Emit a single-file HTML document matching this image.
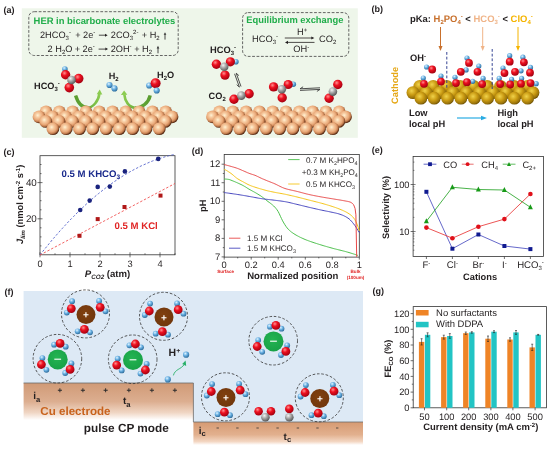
<!DOCTYPE html>
<html><head><meta charset="utf-8"><style>
html,body{margin:0;padding:0;background:#fff;}
svg{display:block;font-family:"Liberation Sans", sans-serif;will-change:transform;text-rendering:geometricPrecision;}
</style></head><body>
<svg width="550" height="449" viewBox="0 0 550 449">
<rect width="550" height="449" fill="#fff"/>

<defs>
 <radialGradient id="cu" cx="0.4" cy="0.38" r="0.6">
  <stop offset="0" stop-color="#fff2d4"/><stop offset="0.28" stop-color="#f7cca2"/><stop offset="0.62" stop-color="#e9a878"/><stop offset="0.84" stop-color="#c07a4c"/><stop offset="1" stop-color="#5e3018"/>
 </radialGradient>
 <radialGradient id="au" cx="0.4" cy="0.36" r="0.66">
  <stop offset="0" stop-color="#f0d24a"/><stop offset="0.5" stop-color="#c99a12"/><stop offset="0.85" stop-color="#98720a"/><stop offset="1" stop-color="#664a00"/>
 </radialGradient>
 <radialGradient id="ox" cx="0.38" cy="0.32" r="0.7">
  <stop offset="0" stop-color="#ff9090"/><stop offset="0.4" stop-color="#ee1020"/><stop offset="1" stop-color="#a00010"/>
 </radialGradient>
 <radialGradient id="hy" cx="0.38" cy="0.32" r="0.7">
  <stop offset="0" stop-color="#e0f4ff"/><stop offset="0.45" stop-color="#6cb2e4"/><stop offset="1" stop-color="#2a6a9a"/>
 </radialGradient>
 <radialGradient id="cg" cx="0.38" cy="0.32" r="0.7">
  <stop offset="0" stop-color="#f4f4f4"/><stop offset="0.45" stop-color="#a8a8a8"/><stop offset="1" stop-color="#555"/>
 </radialGradient>
 <radialGradient id="an" cx="0.45" cy="0.4" r="0.65">
  <stop offset="0" stop-color="#24b452"/><stop offset="1" stop-color="#17a046"/>
 </radialGradient>
 <radialGradient id="ca" cx="0.45" cy="0.4" r="0.65">
  <stop offset="0" stop-color="#80400f"/><stop offset="1" stop-color="#70360c"/>
 </radialGradient>
 <linearGradient id="el1" x1="0" y1="0" x2="0" y2="1">
  <stop offset="0" stop-color="#d09a76"/><stop offset="0.5" stop-color="#dcae90"/><stop offset="0.8" stop-color="#f0d6c4"/><stop offset="1" stop-color="#ffffff"/>
 </linearGradient>
 <linearGradient id="el2" x1="0" y1="0" x2="0" y2="1">
  <stop offset="0" stop-color="#d69a72"/><stop offset="0.55" stop-color="#e2b08e"/><stop offset="0.85" stop-color="#f3d6c2"/><stop offset="1" stop-color="#ffffff"/>
 </linearGradient>
 <linearGradient id="garr" x1="0" y1="0" x2="1" y2="0">
  <stop offset="0" stop-color="#7cc34a"/><stop offset="1" stop-color="#5aa832"/>
 </linearGradient>
 <marker id="ah" viewBox="0 0 10 10" refX="5" refY="5" markerWidth="4" markerHeight="4" orient="auto-start-reverse">
  <path d="M0,0 L10,5 L0,10 z" fill="context-stroke"/>
 </marker>
</defs>

<text x="3.4" y="12.5" font-size="9" font-weight="bold" fill="#231f20" text-anchor="start" >(a)</text>
<text x="371.4" y="12.0" font-size="9" font-weight="bold" fill="#231f20" text-anchor="start" >(b)</text>
<text x="3.4" y="154.5" font-size="9" font-weight="bold" fill="#231f20" text-anchor="start" >(c)</text>
<text x="191.7" y="154" font-size="9" font-weight="bold" fill="#231f20" text-anchor="start" >(d)</text>
<text x="371.7" y="153" font-size="9" font-weight="bold" fill="#231f20" text-anchor="start" >(e)</text>
<text x="4.5" y="294.5" font-size="9" font-weight="bold" fill="#231f20" text-anchor="start" >(f)</text>
<text x="372.5" y="293.8" font-size="9" font-weight="bold" fill="#231f20" text-anchor="start" >(g)</text>
<rect x="21.8" y="8.3" width="336" height="129.5" fill="#eef6ea"/>
<rect x="28.8" y="11.7" width="149.4" height="43.8" rx="5.5" fill="none" stroke="#555" stroke-width="0.9" stroke-dasharray="2.8 1.6"/>
<rect x="242.6" y="12.6" width="106.2" height="43.8" rx="5.5" fill="none" stroke="#555" stroke-width="0.9" stroke-dasharray="2.8 1.6"/>
<text x="33.6" y="23.6" font-size="9.42" font-weight="bold" fill="#20ad4a" text-anchor="start" >HER in bicarbonate electrolytes</text>
<text x="246.3" y="23.4" font-size="9.35" font-weight="bold" fill="#20ad4a" text-anchor="start" >Equilibrium exchange</text>
<text x="40" y="37.8" font-size="9.2" fill="#231f20">2HCO<tspan font-size="6" dy="2">3</tspan><tspan font-size="6" dy="-6">-</tspan></text>
<text x="75.2" y="37.8" font-size="9.2" fill="#231f20">+ 2e<tspan font-size="6" dy="-4">-</tspan></text>
<text x="110.8" y="37.8" font-size="9.2" fill="#231f20">2CO<tspan font-size="6" dy="2">3</tspan><tspan font-size="6" dy="-6">2-</tspan></text>
<text x="141.8" y="37.8" font-size="9.2" fill="#231f20">+ H<tspan font-size="6" dy="2">2</tspan></text>
<text x="47.6" y="51.8" font-size="9.2" fill="#231f20">2 H<tspan font-size="6" dy="2">2</tspan><tspan dy="-2">O</tspan></text>
<text x="74.7" y="51.8" font-size="9.2" fill="#231f20">+ 2e<tspan font-size="6" dy="-4">-</tspan></text>
<text x="110.7" y="51.8" font-size="9.2" fill="#231f20">2OH<tspan font-size="6" dy="-4">-</tspan></text>
<text x="134.2" y="51.8" font-size="9.2" fill="#231f20">+ H<tspan font-size="6" dy="2">2</tspan></text>
<path d="M98.9,35.2 H105.6" stroke="#231f20" stroke-width="0.8"/><path d="M105.0,33.7 L107.6,35.2 L105.0,36.7 z" fill="#231f20"/>
<path d="M98.6,49.1 H106" stroke="#231f20" stroke-width="0.8"/><path d="M105.4,47.6 L108,49.1 L105.4,50.6 z" fill="#231f20"/>
<path d="M165,39.6 V34.2" stroke="#333" stroke-width="0.9"/><path d="M163.7,34.800000000000004 L165,32.2 L166.3,34.800000000000004 z" fill="#333"/>
<path d="M158,53.3 V47.8" stroke="#333" stroke-width="0.9"/><path d="M156.7,48.4 L158,45.8 L159.3,48.4 z" fill="#333"/>
<text x="252" y="41.8" font-size="9.3" fill="#231f20">HCO<tspan font-size="6" dy="2">3</tspan><tspan font-size="6" dy="-6">-</tspan></text>
<text x="319" y="41.8" font-size="9.3" fill="#231f20">CO<tspan font-size="6" dy="2">2</tspan></text>
<text x="297" y="34.5" font-size="9.3" fill="#231f20">H<tspan font-size="6" dy="-3">+</tspan></text>
<text x="293.2" y="51.5" font-size="9.3" fill="#231f20">OH<tspan font-size="6" dy="-3">-</tspan></text>
<path d="M284.8,38 H312" stroke="#231f20" stroke-width="0.8" fill="none"/><path d="M314.3,38 L311.3,36.4 L311.3,39.6 z" fill="#231f20"/>
<path d="M287.5,42.4 H314.5" stroke="#231f20" stroke-width="0.8" fill="none"/><path d="M285,42.4 L288,40.8 L288,44 z" fill="#231f20"/>
<linearGradient id="ga1" gradientUnits="userSpaceOnUse" x1="75" y1="0" x2="100" y2="0"><stop offset="0" stop-color="#5a9c30"/><stop offset="0.45" stop-color="#62a836"/><stop offset="1" stop-color="#8ccc50"/></linearGradient>
<linearGradient id="ga2" gradientUnits="userSpaceOnUse" x1="151" y1="0" x2="123" y2="0"><stop offset="0" stop-color="#5a9c30"/><stop offset="0.45" stop-color="#62a836"/><stop offset="1" stop-color="#8ccc50"/></linearGradient>
<path d="M75.6,95.6 C78,103.5 82.5,107.8 88,107.8" stroke="url(#ga1)" stroke-width="3.4" fill="none"/>
<path d="M87,107.8 C93,107.8 98.6,101 99.4,93.6" stroke="url(#ga1)" stroke-width="2.6" fill="none"/>
<path d="M99.7,89.6 L102.3,94.6 L96.7,94.2 z" fill="#8ccc50"/>
<path d="M150.2,95.4 C148.5,103 142,108 135,108" stroke="url(#ga2)" stroke-width="3.4" fill="none"/>
<path d="M136,108 C129,107.8 124.8,101 124.3,94.4" stroke="url(#ga2)" stroke-width="2.6" fill="none"/>
<path d="M124.1,90.6 L127.3,94.8 L120.9,94.9 z" fill="#8ccc50"/>
<circle cx="46.0" cy="111.8" r="6.4" fill="url(#cu)"/>
<circle cx="59.3" cy="111.8" r="6.4" fill="url(#cu)"/>
<circle cx="72.6" cy="111.8" r="6.4" fill="url(#cu)"/>
<circle cx="85.9" cy="111.8" r="6.4" fill="url(#cu)"/>
<circle cx="99.2" cy="111.8" r="6.4" fill="url(#cu)"/>
<circle cx="112.5" cy="111.8" r="6.4" fill="url(#cu)"/>
<circle cx="125.8" cy="111.8" r="6.4" fill="url(#cu)"/>
<circle cx="139.1" cy="111.8" r="6.4" fill="url(#cu)"/>
<circle cx="152.4" cy="111.8" r="6.4" fill="url(#cu)"/>
<circle cx="165.7" cy="111.8" r="6.4" fill="url(#cu)"/>
<circle cx="39.0" cy="116.8" r="6.4" fill="url(#cu)"/>
<circle cx="52.3" cy="116.8" r="6.4" fill="url(#cu)"/>
<circle cx="65.6" cy="116.8" r="6.4" fill="url(#cu)"/>
<circle cx="78.9" cy="116.8" r="6.4" fill="url(#cu)"/>
<circle cx="92.2" cy="116.8" r="6.4" fill="url(#cu)"/>
<circle cx="105.5" cy="116.8" r="6.4" fill="url(#cu)"/>
<circle cx="118.8" cy="116.8" r="6.4" fill="url(#cu)"/>
<circle cx="132.1" cy="116.8" r="6.4" fill="url(#cu)"/>
<circle cx="145.4" cy="116.8" r="6.4" fill="url(#cu)"/>
<circle cx="158.7" cy="116.8" r="6.4" fill="url(#cu)"/>
<circle cx="172.0" cy="116.8" r="6.4" fill="url(#cu)"/>
<circle cx="45.6" cy="121.4" r="6.4" fill="url(#cu)"/>
<circle cx="58.9" cy="121.4" r="6.4" fill="url(#cu)"/>
<circle cx="72.2" cy="121.4" r="6.4" fill="url(#cu)"/>
<circle cx="85.5" cy="121.4" r="6.4" fill="url(#cu)"/>
<circle cx="98.8" cy="121.4" r="6.4" fill="url(#cu)"/>
<circle cx="112.1" cy="121.4" r="6.4" fill="url(#cu)"/>
<circle cx="125.4" cy="121.4" r="6.4" fill="url(#cu)"/>
<circle cx="138.7" cy="121.4" r="6.4" fill="url(#cu)"/>
<circle cx="152.0" cy="121.4" r="6.4" fill="url(#cu)"/>
<circle cx="165.3" cy="121.4" r="6.4" fill="url(#cu)"/>
<circle cx="52.9" cy="128.7" r="6.4" fill="url(#cu)"/>
<circle cx="66.2" cy="128.7" r="6.4" fill="url(#cu)"/>
<circle cx="79.5" cy="128.7" r="6.4" fill="url(#cu)"/>
<circle cx="92.8" cy="128.7" r="6.4" fill="url(#cu)"/>
<circle cx="106.1" cy="128.7" r="6.4" fill="url(#cu)"/>
<circle cx="119.4" cy="128.7" r="6.4" fill="url(#cu)"/>
<circle cx="132.7" cy="128.7" r="6.4" fill="url(#cu)"/>
<circle cx="146.0" cy="128.7" r="6.4" fill="url(#cu)"/>
<circle cx="159.3" cy="128.7" r="6.4" fill="url(#cu)"/>
<circle cx="219.5" cy="111.8" r="6.4" fill="url(#cu)"/>
<circle cx="232.8" cy="111.8" r="6.4" fill="url(#cu)"/>
<circle cx="246.1" cy="111.8" r="6.4" fill="url(#cu)"/>
<circle cx="259.4" cy="111.8" r="6.4" fill="url(#cu)"/>
<circle cx="272.7" cy="111.8" r="6.4" fill="url(#cu)"/>
<circle cx="286.0" cy="111.8" r="6.4" fill="url(#cu)"/>
<circle cx="299.3" cy="111.8" r="6.4" fill="url(#cu)"/>
<circle cx="312.6" cy="111.8" r="6.4" fill="url(#cu)"/>
<circle cx="325.9" cy="111.8" r="6.4" fill="url(#cu)"/>
<circle cx="339.2" cy="111.8" r="6.4" fill="url(#cu)"/>
<circle cx="212.5" cy="116.8" r="6.4" fill="url(#cu)"/>
<circle cx="225.8" cy="116.8" r="6.4" fill="url(#cu)"/>
<circle cx="239.1" cy="116.8" r="6.4" fill="url(#cu)"/>
<circle cx="252.4" cy="116.8" r="6.4" fill="url(#cu)"/>
<circle cx="265.7" cy="116.8" r="6.4" fill="url(#cu)"/>
<circle cx="279.0" cy="116.8" r="6.4" fill="url(#cu)"/>
<circle cx="292.3" cy="116.8" r="6.4" fill="url(#cu)"/>
<circle cx="305.6" cy="116.8" r="6.4" fill="url(#cu)"/>
<circle cx="318.9" cy="116.8" r="6.4" fill="url(#cu)"/>
<circle cx="332.2" cy="116.8" r="6.4" fill="url(#cu)"/>
<circle cx="345.5" cy="116.8" r="6.4" fill="url(#cu)"/>
<circle cx="219.1" cy="121.4" r="6.4" fill="url(#cu)"/>
<circle cx="232.4" cy="121.4" r="6.4" fill="url(#cu)"/>
<circle cx="245.7" cy="121.4" r="6.4" fill="url(#cu)"/>
<circle cx="259.0" cy="121.4" r="6.4" fill="url(#cu)"/>
<circle cx="272.3" cy="121.4" r="6.4" fill="url(#cu)"/>
<circle cx="285.6" cy="121.4" r="6.4" fill="url(#cu)"/>
<circle cx="298.9" cy="121.4" r="6.4" fill="url(#cu)"/>
<circle cx="312.2" cy="121.4" r="6.4" fill="url(#cu)"/>
<circle cx="325.5" cy="121.4" r="6.4" fill="url(#cu)"/>
<circle cx="338.8" cy="121.4" r="6.4" fill="url(#cu)"/>
<circle cx="226.4" cy="128.7" r="6.4" fill="url(#cu)"/>
<circle cx="239.7" cy="128.7" r="6.4" fill="url(#cu)"/>
<circle cx="253.0" cy="128.7" r="6.4" fill="url(#cu)"/>
<circle cx="266.3" cy="128.7" r="6.4" fill="url(#cu)"/>
<circle cx="279.6" cy="128.7" r="6.4" fill="url(#cu)"/>
<circle cx="292.9" cy="128.7" r="6.4" fill="url(#cu)"/>
<circle cx="306.2" cy="128.7" r="6.4" fill="url(#cu)"/>
<circle cx="319.5" cy="128.7" r="6.4" fill="url(#cu)"/>
<circle cx="332.8" cy="128.7" r="6.4" fill="url(#cu)"/>
<circle cx="64.9" cy="69.0" r="2.8" fill="url(#hy)"/>
<circle cx="65.6" cy="74.8" r="4.7" fill="url(#ox)"/>
<circle cx="78.7" cy="78.6" r="4.8" fill="url(#ox)"/>
<circle cx="69.3" cy="87.6" r="4.8" fill="url(#ox)"/>
<circle cx="71.5" cy="80.0" r="4.3" fill="url(#cg)"/>
<text x="34" y="89.1" font-size="9.2" font-weight="bold" fill="#231f20">HCO<tspan font-size="6" dy="2">3</tspan><tspan font-size="6" dy="-6">-</tspan></text>
<text x="108.7" y="78.9" font-size="9.2" font-weight="bold" fill="#231f20">H<tspan font-size="6" dy="2">2</tspan></text>
<text x="157" y="77.5" font-size="9.2" font-weight="bold" fill="#231f20">H<tspan font-size="6" dy="2">2</tspan><tspan dy="-2">O</tspan></text>
<circle cx="109.5" cy="85.0" r="3.1" fill="url(#hy)"/>
<circle cx="114.5" cy="88.4" r="3.1" fill="url(#hy)"/>
<circle cx="149.2" cy="85.5" r="3.1" fill="url(#hy)"/>
<circle cx="155.6" cy="83.3" r="5.0" fill="url(#ox)"/>
<circle cx="156.7" cy="90.5" r="3.1" fill="url(#hy)"/>
<text x="210" y="52.8" font-size="9.3" font-weight="bold" fill="#231f20">HCO<tspan font-size="6" dy="2">3</tspan><tspan font-size="6" dy="-6">-</tspan></text>
<text x="208.6" y="99.3" font-size="9.2" font-weight="bold" fill="#231f20">CO<tspan font-size="6" dy="2">2</tspan></text>
<circle cx="216.4" cy="64.2" r="4.7" fill="url(#ox)"/>
<circle cx="235.9" cy="61.8" r="2.8" fill="url(#hy)"/>
<circle cx="230.4" cy="61.8" r="4.6" fill="url(#ox)"/>
<circle cx="225.0" cy="75.1" r="4.7" fill="url(#ox)"/>
<circle cx="224.2" cy="66.8" r="4.3" fill="url(#cg)"/>
<circle cx="234.0" cy="99.3" r="4.7" fill="url(#ox)"/>
<circle cx="249.1" cy="93.8" r="4.7" fill="url(#ox)"/>
<circle cx="241.3" cy="95.6" r="4.3" fill="url(#cg)"/>
<path d="M234.6,73.8 L239.4,87.1 L236.7,84.7 M241.0,86.5 L236.2,73.2 L238.9,75.6" stroke="#3a3a3a" stroke-width="0.9" fill="none" stroke-linejoin="round"/>
<circle cx="273.6" cy="86.9" r="4.7" fill="url(#ox)"/>
<circle cx="293.3" cy="84.2" r="2.8" fill="url(#hy)"/>
<circle cx="288.2" cy="84.5" r="4.6" fill="url(#ox)"/>
<circle cx="282.2" cy="97.8" r="4.7" fill="url(#ox)"/>
<circle cx="281.8" cy="89.3" r="4.3" fill="url(#cg)"/>
<path d="M300.0,90.4 L320.0,89.4 L316.9,91.4 M320.0,87.8 L300.0,88.8 L303.1,86.8" stroke="#3a3a3a" stroke-width="0.9" fill="none" stroke-linejoin="round"/>
<circle cx="337.8" cy="84.5" r="4.7" fill="url(#ox)"/>
<circle cx="329.1" cy="98.2" r="4.7" fill="url(#ox)"/>
<circle cx="332.9" cy="91.6" r="4.3" fill="url(#cg)"/>
<text x="410" y="21.9" font-size="9.45" font-weight="bold" fill="#231f20">pKa: <tspan fill="#c8702c">H<tspan font-size="6" dy="2">2</tspan><tspan dy="-2">PO</tspan><tspan font-size="6" dy="2">4</tspan><tspan font-size="6" dy="-6">-</tspan></tspan><tspan dy="4"> &lt; </tspan><tspan fill="#f0b488">HCO<tspan font-size="6" dy="2">3</tspan><tspan font-size="6" dy="-6">-</tspan></tspan><tspan dy="4"> &lt; </tspan><tspan fill="#f5b400">ClO<tspan font-size="6" dy="2">4</tspan><tspan font-size="6" dy="-6">-</tspan></tspan></text>
<path d="M440.5,27 V49" stroke="#c8702c" stroke-width="1"/><path d="M438.5,46 L440.5,51 L442.5,46 z" fill="#c8702c"/>
<path d="M482.7,27 V49" stroke="#f0b488" stroke-width="1"/><path d="M480.7,46 L482.7,51 L484.7,46 z" fill="#f0b488"/>
<path d="M518,27 V49" stroke="#f5b400" stroke-width="1"/><path d="M516,46 L518,51 L520,46 z" fill="#f5b400"/>
<text x="410" y="61" font-size="9.3" font-weight="bold" fill="#231f20">OH<tspan font-size="6" dy="-3">-</tspan></text>
<text transform="translate(398,104) rotate(-90)" font-size="9.3" font-weight="bold" fill="#e6a817">Cathode</text>
<circle cx="419.8" cy="86.3" r="6.4" fill="url(#au)"/>
<circle cx="433.2" cy="86.3" r="6.4" fill="url(#au)"/>
<circle cx="446.7" cy="86.3" r="6.4" fill="url(#au)"/>
<circle cx="460.1" cy="86.3" r="6.4" fill="url(#au)"/>
<circle cx="473.6" cy="86.3" r="6.4" fill="url(#au)"/>
<circle cx="487.1" cy="86.3" r="6.4" fill="url(#au)"/>
<circle cx="500.5" cy="86.3" r="6.4" fill="url(#au)"/>
<circle cx="514.0" cy="86.3" r="6.4" fill="url(#au)"/>
<circle cx="527.4" cy="86.3" r="6.4" fill="url(#au)"/>
<circle cx="412.9" cy="92.6" r="6.4" fill="url(#au)"/>
<circle cx="426.2" cy="92.6" r="6.4" fill="url(#au)"/>
<circle cx="439.6" cy="92.6" r="6.4" fill="url(#au)"/>
<circle cx="452.9" cy="92.6" r="6.4" fill="url(#au)"/>
<circle cx="466.3" cy="92.6" r="6.4" fill="url(#au)"/>
<circle cx="479.6" cy="92.6" r="6.4" fill="url(#au)"/>
<circle cx="493.0" cy="92.6" r="6.4" fill="url(#au)"/>
<circle cx="506.3" cy="92.6" r="6.4" fill="url(#au)"/>
<circle cx="519.7" cy="92.6" r="6.4" fill="url(#au)"/>
<circle cx="533.0" cy="92.6" r="6.4" fill="url(#au)"/>
<circle cx="420.9" cy="98.2" r="6.4" fill="url(#au)"/>
<circle cx="434.2" cy="98.2" r="6.4" fill="url(#au)"/>
<circle cx="447.6" cy="98.2" r="6.4" fill="url(#au)"/>
<circle cx="460.9" cy="98.2" r="6.4" fill="url(#au)"/>
<circle cx="474.3" cy="98.2" r="6.4" fill="url(#au)"/>
<circle cx="487.6" cy="98.2" r="6.4" fill="url(#au)"/>
<circle cx="501.0" cy="98.2" r="6.4" fill="url(#au)"/>
<circle cx="514.4" cy="98.2" r="6.4" fill="url(#au)"/>
<circle cx="527.7" cy="98.2" r="6.4" fill="url(#au)"/>
<path d="M446.8,52 V89 M492.2,49 V89" stroke="#2a3a8e" stroke-width="0.95" stroke-dasharray="2.8 1.9"/>
<circle cx="426.6" cy="67.0" r="2.6" fill="url(#hy)"/>
<circle cx="432.2" cy="69.5" r="3.9" fill="url(#ox)"/>
<circle cx="423.3" cy="78.0" r="2.6" fill="url(#hy)"/>
<circle cx="424.0" cy="83.8" r="3.9" fill="url(#ox)"/>
<circle cx="441.0" cy="76.1" r="2.6" fill="url(#hy)"/>
<circle cx="441.0" cy="81.6" r="3.9" fill="url(#ox)"/>
<circle cx="455.0" cy="77.3" r="2.6" fill="url(#hy)"/>
<circle cx="456.0" cy="83.1" r="3.9" fill="url(#ox)"/>
<circle cx="467.0" cy="58.0" r="2.6" fill="url(#hy)"/>
<circle cx="469.0" cy="62.9" r="3.9" fill="url(#ox)"/>
<circle cx="466.1" cy="69.9" r="2.6" fill="url(#hy)"/>
<circle cx="460.8" cy="71.8" r="3.9" fill="url(#ox)"/>
<circle cx="478.8" cy="66.1" r="2.6" fill="url(#hy)"/>
<circle cx="477.5" cy="71.8" r="3.9" fill="url(#ox)"/>
<circle cx="472.7" cy="81.3" r="2.6" fill="url(#hy)"/>
<circle cx="466.9" cy="82.2" r="3.9" fill="url(#ox)"/>
<circle cx="483.1" cy="78.4" r="2.6" fill="url(#hy)"/>
<circle cx="482.2" cy="84.1" r="3.9" fill="url(#ox)"/>
<circle cx="509.7" cy="55.7" r="2.6" fill="url(#hy)"/>
<circle cx="509.7" cy="61.7" r="3.9" fill="url(#ox)"/>
<circle cx="522.9" cy="57.2" r="2.6" fill="url(#hy)"/>
<circle cx="523.9" cy="62.3" r="3.9" fill="url(#ox)"/>
<circle cx="503.0" cy="68.0" r="2.6" fill="url(#hy)"/>
<circle cx="504.5" cy="73.1" r="3.9" fill="url(#ox)"/>
<circle cx="521.0" cy="70.8" r="2.6" fill="url(#hy)"/>
<circle cx="515.0" cy="71.8" r="3.9" fill="url(#ox)"/>
<circle cx="530.5" cy="67.4" r="2.6" fill="url(#hy)"/>
<circle cx="530.0" cy="72.7" r="3.9" fill="url(#ox)"/>
<circle cx="499.2" cy="78.4" r="2.6" fill="url(#hy)"/>
<circle cx="500.2" cy="84.1" r="3.9" fill="url(#ox)"/>
<circle cx="511.6" cy="79.4" r="2.6" fill="url(#hy)"/>
<circle cx="510.2" cy="84.5" r="3.9" fill="url(#ox)"/>
<circle cx="521.6" cy="78.4" r="2.6" fill="url(#hy)"/>
<circle cx="521.0" cy="83.7" r="3.9" fill="url(#ox)"/>
<circle cx="536.2" cy="83.7" r="2.6" fill="url(#hy)"/>
<circle cx="530.5" cy="83.1" r="3.9" fill="url(#ox)"/>
<text x="409" y="116" font-size="9.3" font-weight="bold" fill="#231f20">Low</text>
<text x="409" y="127.3" font-size="9.3" font-weight="bold" fill="#231f20">local pH</text>
<text x="497.4" y="116" font-size="9.3" font-weight="bold" fill="#231f20">High</text>
<text x="497.4" y="127.3" font-size="9.3" font-weight="bold" fill="#231f20">local pH</text>
<path d="M457,118 H483" stroke="#29abe2" stroke-width="1.2"/><path d="M481,115.8 L487,118 L481,120.2 z" fill="#29abe2"/>
<rect x="40" y="155.7" width="135" height="99.1" fill="none" stroke="#333" stroke-width="0.8"/>
<path d="M40,245.9 h1.5" stroke="#333" stroke-width="0.7"/>
<path d="M40,236.9 h1.5" stroke="#333" stroke-width="0.7"/>
<path d="M40,227.8 h1.5" stroke="#333" stroke-width="0.7"/>
<path d="M40,218.8 h2.5" stroke="#333" stroke-width="0.7"/>
<path d="M40,209.8 h1.5" stroke="#333" stroke-width="0.7"/>
<path d="M40,200.7 h1.5" stroke="#333" stroke-width="0.7"/>
<path d="M40,191.7 h1.5" stroke="#333" stroke-width="0.7"/>
<path d="M40,182.6 h2.5" stroke="#333" stroke-width="0.7"/>
<path d="M40,173.6 h1.5" stroke="#333" stroke-width="0.7"/>
<path d="M40,164.5 h1.5" stroke="#333" stroke-width="0.7"/>
<path d="M37.5,218.8 h2.5" stroke="#333" stroke-width="0.7"/>
<text x="36.8" y="222.10000000000002" font-size="9.8" font-weight="normal" fill="#231f20" text-anchor="end" >20</text>
<path d="M37.5,182.6 h2.5" stroke="#333" stroke-width="0.7"/>
<text x="36.8" y="185.9" font-size="9.8" font-weight="normal" fill="#231f20" text-anchor="end" >40</text>
<path d="M40.0,254.8 v-2.5" stroke="#333" stroke-width="0.7"/>
<path d="M40.0,254.8 v2.5" stroke="#333" stroke-width="0.7"/>
<text x="40.0" y="267" font-size="9.3" font-weight="normal" fill="#231f20" text-anchor="middle" >0</text>
<path d="M55.0,254.8 v-1.5" stroke="#333" stroke-width="0.7"/>
<path d="M70.0,254.8 v-2.5" stroke="#333" stroke-width="0.7"/>
<path d="M70.0,254.8 v2.5" stroke="#333" stroke-width="0.7"/>
<text x="70.0" y="267" font-size="9.3" font-weight="normal" fill="#231f20" text-anchor="middle" >1</text>
<path d="M85.0,254.8 v-1.5" stroke="#333" stroke-width="0.7"/>
<path d="M100.0,254.8 v-2.5" stroke="#333" stroke-width="0.7"/>
<path d="M100.0,254.8 v2.5" stroke="#333" stroke-width="0.7"/>
<text x="100.0" y="267" font-size="9.3" font-weight="normal" fill="#231f20" text-anchor="middle" >2</text>
<path d="M115.0,254.8 v-1.5" stroke="#333" stroke-width="0.7"/>
<path d="M130.0,254.8 v-2.5" stroke="#333" stroke-width="0.7"/>
<path d="M130.0,254.8 v2.5" stroke="#333" stroke-width="0.7"/>
<text x="130.0" y="267" font-size="9.3" font-weight="normal" fill="#231f20" text-anchor="middle" >3</text>
<path d="M145.0,254.8 v-1.5" stroke="#333" stroke-width="0.7"/>
<path d="M160.0,254.8 v-2.5" stroke="#333" stroke-width="0.7"/>
<path d="M160.0,254.8 v2.5" stroke="#333" stroke-width="0.7"/>
<text x="160.0" y="267" font-size="9.3" font-weight="normal" fill="#231f20" text-anchor="middle" >4</text>
<path d="M175.0,254.8 v-1.5" stroke="#333" stroke-width="0.7"/>
<polyline points="40.0,255.0 42.2,252.1 44.5,249.3 46.8,246.5 49.0,243.8 51.2,241.1 53.5,238.4 55.8,235.8 58.0,233.2 60.2,230.7 62.5,228.2 64.8,225.7 67.0,223.3 69.2,220.9 71.5,218.6 73.8,216.3 76.0,214.0 78.2,211.8 80.5,209.6 82.8,207.5 85.0,205.4 87.2,203.3 89.5,201.3 91.8,199.3 94.0,197.4 96.2,195.5 98.5,193.6 100.8,191.8 103.0,190.0 105.2,188.3 107.5,186.6 109.8,184.9 112.0,183.3 114.2,181.7 116.5,180.2 118.8,178.7 121.0,177.2 123.2,175.8 125.5,174.4 127.8,173.1 130.0,171.8 132.2,170.6 134.5,169.3 136.8,168.2 139.0,167.0 141.2,165.9 143.5,164.9 145.8,163.9 148.0,162.9 150.2,161.9 152.5,161.0 154.8,160.2 157.0,159.4 159.2,158.6 161.5,157.9 163.8,157.2 166.0,156.5 168.2,155.9 170.5,155.3 172.8,154.8 175.0,154.3" fill="none" stroke="#4a5ac8" stroke-width="0.85" stroke-dasharray="2.4 1.8"/>
<path d="M40,255 L175,183.5" stroke="#f04848" stroke-width="0.85" stroke-dasharray="2.4 1.8"/>
<circle cx="80.2" cy="210" r="2.3" fill="#1a237e"/>
<circle cx="89.7" cy="200.6" r="2.3" fill="#1a237e"/>
<circle cx="97.7" cy="186.9" r="2.3" fill="#1a237e"/>
<circle cx="109.8" cy="186.6" r="2.3" fill="#1a237e"/>
<circle cx="124.9" cy="171.4" r="2.3" fill="#1a237e"/>
<circle cx="158.2" cy="158.9" r="2.3" fill="#1a237e"/>
<rect x="77.5" y="233.8" width="4" height="4" fill="#b01818"/>
<rect x="95.7" y="217.1" width="4" height="4" fill="#b01818"/>
<rect x="122.5" y="205" width="4" height="4" fill="#b01818"/>
<rect x="158.5" y="193.6" width="4" height="4" fill="#b01818"/>
<text x="61.6" y="176.9" font-size="9.6" font-weight="bold" fill="#1a2a8c">0.5 M KHCO<tspan font-size="6.4" dy="2">3</tspan></text>
<text x="114.6" y="229.4" font-size="9.6" font-weight="bold" fill="#e02424">0.5 M KCl</text>
<text x="84.8" y="277.2" font-size="9.6" font-weight="bold" fill="#231f20"><tspan font-style="italic">P</tspan><tspan font-size="6.3" font-style="italic" dy="2.2">CO2</tspan><tspan dy="-2.2"> (atm)</tspan></text>
<text transform="translate(22.7,244) rotate(-90)" font-size="9.3" font-weight="bold" fill="#231f20"><tspan font-style="italic">J</tspan><tspan font-size="6" font-style="italic" dy="2">lim</tspan><tspan dy="-2"> (nmol cm</tspan><tspan font-size="6" dy="-3">-2</tspan><tspan dy="3"> s</tspan><tspan font-size="6" dy="-3">-1</tspan><tspan dy="3">)</tspan></text>
<rect x="224.2" y="154.5" width="135.1" height="102.6" fill="none" stroke="#333" stroke-width="0.8"/>
<path d="M224.2,257 v2.6" stroke="#333" stroke-width="0.7"/>
<text x="224.2" y="268" font-size="9.3" font-weight="normal" fill="#231f20" text-anchor="middle" >0</text>
<path d="M237.7,257 v1.4" stroke="#333" stroke-width="0.7"/>
<path d="M251.2,257 v2.6" stroke="#333" stroke-width="0.7"/>
<text x="251.22" y="268" font-size="9.3" font-weight="normal" fill="#231f20" text-anchor="middle" >0.2</text>
<path d="M264.7,257 v1.4" stroke="#333" stroke-width="0.7"/>
<path d="M278.2,257 v2.6" stroke="#333" stroke-width="0.7"/>
<text x="278.24" y="268" font-size="9.3" font-weight="normal" fill="#231f20" text-anchor="middle" >0.4</text>
<path d="M291.8,257 v1.4" stroke="#333" stroke-width="0.7"/>
<path d="M305.3,257 v2.6" stroke="#333" stroke-width="0.7"/>
<text x="305.26" y="268" font-size="9.3" font-weight="normal" fill="#231f20" text-anchor="middle" >0.6</text>
<path d="M318.8,257 v1.4" stroke="#333" stroke-width="0.7"/>
<path d="M332.3,257 v2.6" stroke="#333" stroke-width="0.7"/>
<text x="332.28" y="268" font-size="9.3" font-weight="normal" fill="#231f20" text-anchor="middle" >0.8</text>
<path d="M345.8,257 v1.4" stroke="#333" stroke-width="0.7"/>
<path d="M359.3,257 v2.6" stroke="#333" stroke-width="0.7"/>
<text x="359.29999999999995" y="268" font-size="9.3" font-weight="normal" fill="#231f20" text-anchor="middle" >1</text>
<path d="M224.2,256.9 h-2.6" stroke="#333" stroke-width="0.7"/>
<text x="220.3" y="259.79999999999995" font-size="9.5" font-weight="normal" fill="#231f20" text-anchor="end" >7</text>
<path d="M224.2,247.6 h-1.4" stroke="#333" stroke-width="0.7"/>
<path d="M224.2,238.4 h-2.6" stroke="#333" stroke-width="0.7"/>
<text x="220.3" y="241.26" font-size="9.5" font-weight="normal" fill="#231f20" text-anchor="end" >8</text>
<path d="M224.2,229.1 h-1.4" stroke="#333" stroke-width="0.7"/>
<path d="M224.2,219.8 h-2.6" stroke="#333" stroke-width="0.7"/>
<text x="220.3" y="222.72" font-size="9.5" font-weight="normal" fill="#231f20" text-anchor="end" >9</text>
<path d="M224.2,210.5 h-1.4" stroke="#333" stroke-width="0.7"/>
<path d="M224.2,201.3 h-2.6" stroke="#333" stroke-width="0.7"/>
<text x="220.3" y="204.17999999999998" font-size="9.5" font-weight="normal" fill="#231f20" text-anchor="end" >10</text>
<path d="M224.2,192.0 h-1.4" stroke="#333" stroke-width="0.7"/>
<path d="M224.2,182.7 h-2.6" stroke="#333" stroke-width="0.7"/>
<text x="220.3" y="185.64" font-size="9.5" font-weight="normal" fill="#231f20" text-anchor="end" >11</text>
<path d="M224.2,173.5 h-1.4" stroke="#333" stroke-width="0.7"/>
<path d="M224.2,164.2 h-2.6" stroke="#333" stroke-width="0.7"/>
<text x="220.3" y="167.1" font-size="9.5" font-weight="normal" fill="#231f20" text-anchor="end" >12</text>
<polyline points="224.2,179.03 225.3,179.06 226.4,179.14 227.6,179.26 228.7,179.41 229.8,179.69 230.9,180.13 232.1,180.61 233.2,181.05 234.3,181.51 235.4,181.98 236.6,182.47 237.7,182.97 238.8,183.48 239.9,183.99 241.1,184.53 242.2,185.08 243.3,185.67 244.4,186.30 245.6,186.98 246.7,187.69 247.8,188.41 248.9,189.10 250.1,189.75 251.2,190.37 252.3,190.97 253.4,191.57 254.5,192.18 255.7,192.83 256.8,193.49 257.9,194.16 259.0,194.86 260.2,195.57 261.3,196.32 262.4,197.11 263.5,197.96 264.7,198.85 265.8,199.75 266.9,200.66 268.0,201.53 269.2,202.37 270.3,203.18 271.4,204.03 272.5,204.96 273.7,206.00 274.8,207.11 275.9,208.36 277.0,209.78 278.1,211.48 279.3,213.77 280.4,216.28 281.5,218.57 282.6,220.83 283.8,222.94 284.9,224.76 286.0,226.40 287.1,227.90 288.3,229.22 289.4,230.33 290.5,231.31 291.6,232.20 292.8,233.00 293.9,233.74 295.0,234.44 296.1,235.11 297.3,235.75 298.4,236.35 299.5,236.93 300.6,237.48 301.8,238.01 302.9,238.51 304.0,239.00 305.1,239.47 306.2,239.93 307.4,240.36 308.5,240.79 309.6,241.20 310.7,241.60 311.9,241.99 313.0,242.37 314.1,242.74 315.2,243.10 316.4,243.47 317.5,243.83 318.6,244.19 319.7,244.54 320.9,244.89 322.0,245.23 323.1,245.57 324.2,245.91 325.4,246.24 326.5,246.56 327.6,246.88 328.7,247.20 329.9,247.52 331.0,247.83 332.1,248.14 333.2,248.44 334.3,248.74 335.5,249.02 336.6,249.30 337.7,249.58 338.8,249.86 340.0,250.13 341.1,250.41 342.2,250.69 343.3,250.98 344.5,251.27 345.6,251.57 346.7,251.89 347.8,252.21 349.0,252.54 350.1,252.88 351.2,253.22 352.3,253.57 353.5,253.93 354.6,254.29 355.7,254.66 356.8,255.04 357.9,255.42" fill="none" stroke="#4cc04c" stroke-width="1.0" stroke-linejoin="round"/>
<polyline points="224.2,192.57 225.3,192.72 226.5,192.87 227.6,193.02 228.7,193.18 229.9,193.34 231.0,193.50 232.1,193.67 233.3,193.83 234.4,194.00 235.6,194.17 236.7,194.35 237.8,194.52 239.0,194.70 240.1,194.88 241.2,195.06 242.4,195.25 243.5,195.44 244.6,195.63 245.8,195.82 246.9,196.02 248.0,196.21 249.2,196.41 250.3,196.61 251.4,196.82 252.6,197.03 253.7,197.25 254.9,197.47 256.0,197.69 257.1,197.90 258.3,198.11 259.4,198.31 260.5,198.50 261.7,198.67 262.8,198.83 263.9,198.98 265.1,199.12 266.2,199.26 267.3,199.39 268.5,199.52 269.6,199.64 270.7,199.77 271.9,199.90 273.0,200.04 274.2,200.18 275.3,200.32 276.4,200.46 277.6,200.60 278.7,200.75 279.8,200.89 281.0,201.04 282.1,201.20 283.2,201.37 284.4,201.55 285.5,201.74 286.6,201.95 287.8,202.19 288.9,202.43 290.0,202.70 291.2,202.97 292.3,203.25 293.5,203.53 294.6,203.81 295.7,204.09 296.9,204.36 298.0,204.63 299.1,204.90 300.3,205.18 301.4,205.45 302.5,205.73 303.7,206.01 304.8,206.29 305.9,206.56 307.1,206.84 308.2,207.11 309.3,207.37 310.5,207.64 311.6,207.90 312.8,208.17 313.9,208.43 315.0,208.69 316.2,208.95 317.3,209.20 318.4,209.46 319.6,209.71 320.7,209.96 321.8,210.20 323.0,210.43 324.1,210.66 325.2,210.89 326.4,211.11 327.5,211.33 328.6,211.56 329.8,211.80 330.9,212.05 332.1,212.29 333.2,212.53 334.3,212.77 335.5,213.03 336.6,213.30 337.7,213.59 338.9,213.91 340.0,214.26 341.1,214.66 342.3,215.09 343.4,215.57 344.5,216.10 345.7,216.69 346.8,217.35 347.9,218.06 349.1,218.89 350.2,219.93 351.4,221.14 352.5,222.46 353.6,223.84 354.8,225.38 355.9,227.06 357.0,228.81 358.2,230.66 359.3,232.61" fill="none" stroke="#4848c0" stroke-width="1.0" stroke-linejoin="round"/>
<polyline points="224.2,169.21 225.3,169.81 226.5,170.46 227.6,171.14 228.7,171.87 229.9,172.63 231.0,173.41 232.1,174.28 233.3,175.25 234.4,176.26 235.6,177.24 236.7,178.14 237.8,178.90 239.0,179.59 240.1,180.24 241.2,180.85 242.4,181.45 243.5,182.06 244.6,182.68 245.8,183.31 246.9,183.91 248.0,184.49 249.2,185.02 250.3,185.50 251.4,185.95 252.6,186.36 253.7,186.76 254.9,187.14 256.0,187.51 257.1,187.87 258.3,188.21 259.4,188.55 260.5,188.88 261.7,189.20 262.8,189.52 263.9,189.84 265.1,190.16 266.2,190.46 267.3,190.74 268.5,191.02 269.6,191.27 270.7,191.52 271.9,191.76 273.0,191.99 274.2,192.22 275.3,192.44 276.4,192.65 277.6,192.86 278.7,193.06 279.8,193.26 281.0,193.47 282.1,193.67 283.2,193.89 284.4,194.11 285.5,194.34 286.6,194.58 287.8,194.83 288.9,195.08 290.0,195.33 291.2,195.59 292.3,195.86 293.5,196.13 294.6,196.40 295.7,196.67 296.9,196.94 298.0,197.22 299.1,197.50 300.3,197.79 301.4,198.08 302.5,198.37 303.7,198.67 304.8,198.96 305.9,199.26 307.1,199.55 308.2,199.85 309.3,200.14 310.5,200.43 311.6,200.72 312.8,201.00 313.9,201.29 315.0,201.57 316.2,201.86 317.3,202.15 318.4,202.44 319.6,202.73 320.7,203.04 321.8,203.34 323.0,203.66 324.1,203.98 325.2,204.30 326.4,204.63 327.5,204.97 328.6,205.31 329.8,205.67 330.9,206.03 332.1,206.40 333.2,206.77 334.3,207.15 335.5,207.54 336.6,207.95 337.7,208.37 338.9,208.80 340.0,209.26 341.1,209.73 342.3,210.21 343.4,210.71 344.5,211.24 345.7,211.80 346.8,212.41 347.9,213.08 349.1,213.80 350.2,214.61 351.4,215.54 352.5,216.62 353.6,217.90 354.8,219.55 355.9,221.60 357.0,224.05 358.2,227.42 359.3,230.94" fill="none" stroke="#f5c518" stroke-width="1.0" stroke-linejoin="round"/>
<polyline points="224.2,164.57 225.0,164.78 225.9,165.00 226.7,165.21 227.5,165.44 228.4,165.66 229.2,165.89 230.0,166.13 230.9,166.36 231.7,166.60 232.5,166.84 233.4,167.08 234.2,167.32 235.0,167.58 235.9,167.84 236.7,168.12 237.5,168.41 238.4,168.73 239.2,169.07 240.0,169.42 240.9,169.78 241.7,170.15 242.5,170.51 243.4,170.87 244.2,171.23 245.0,171.59 245.9,171.96 246.7,172.33 247.5,172.69 248.4,173.04 249.2,173.37 250.0,173.68 250.9,173.96 251.7,174.22 252.5,174.48 253.4,174.75 254.2,175.03 255.0,175.34 255.9,175.68 256.7,176.05 257.5,176.45 258.4,176.85 259.2,177.27 260.0,177.67 260.9,178.07 261.7,178.45 262.5,178.82 263.4,179.18 264.2,179.53 265.0,179.87 265.9,180.22 266.7,180.56 267.5,180.90 268.4,181.24 269.2,181.57 270.0,181.89 270.9,182.21 271.7,182.54 272.5,182.87 273.4,183.20 274.2,183.55 275.0,183.92 275.9,184.31 276.7,184.71 277.5,185.13 278.4,185.55 279.2,185.97 280.0,186.38 280.9,186.79 281.7,187.18 282.5,187.56 283.4,187.90 284.2,188.22 285.0,188.50 285.9,188.76 286.7,189.00 287.5,189.23 288.4,189.44 289.2,189.65 290.0,189.84 290.9,190.03 291.7,190.22 292.6,190.40 293.4,190.58 294.2,190.77 295.1,190.95 295.9,191.15 296.7,191.35 297.6,191.55 298.4,191.77 299.2,191.98 300.1,192.20 300.9,192.43 301.7,192.65 302.6,192.87 303.4,193.10 304.2,193.32 305.1,193.53 305.9,193.75 306.7,193.96 307.6,194.16 308.4,194.36 309.2,194.55 310.1,194.74 310.9,194.92 311.7,195.10 312.6,195.27 313.4,195.44 314.2,195.61 315.1,195.77 315.9,195.93 316.7,196.09 317.6,196.25 318.4,196.41 319.2,196.56 320.1,196.71 320.9,196.86 321.7,197.01 322.6,197.16 323.4,197.31 324.2,197.45 325.1,197.59 325.9,197.73 326.7,197.86 327.6,198.00 328.4,198.14 329.2,198.27 330.1,198.40 330.9,198.54 331.7,198.67 332.6,198.81 333.4,198.95 334.2,199.09 335.1,199.23 335.9,199.36 336.7,199.50 337.6,199.63 338.4,199.76 339.2,199.90 340.1,200.03 340.9,200.17 341.7,200.32 342.6,200.46 343.4,200.61 344.2,200.77 345.1,200.93 345.9,201.08 346.7,201.23 347.6,201.39 348.4,201.57 349.2,201.78 350.1,202.05 350.9,202.41 351.7,202.91 352.6,203.58 353.4,204.47 354.2,206.07 355.1,208.66 355.9,214.84 356.7,256.90" fill="none" stroke="#e84848" stroke-width="1.0" stroke-linejoin="round"/>
<path d="M288.2,159.6 h11.4" stroke="#4cc04c" stroke-width="0.9"/><path d="M288.2,184 h11.4" stroke="#f5c518" stroke-width="0.9"/>
<path d="M229,238.2 h11.4" stroke="#e84848" stroke-width="0.9"/><path d="M229,248.2 h11.4" stroke="#4848c0" stroke-width="0.9"/>
<text x="306.1" y="163.3" font-size="8.1" fill="#231f20">0.7 M K<tspan font-size="5.4" dy="2">2</tspan><tspan dy="-2">HPO</tspan><tspan font-size="5.4" dy="2">4</tspan></text>
<text x="301.7" y="175" font-size="8.1" fill="#231f20">+0.3 M KH<tspan font-size="5.4" dy="2">2</tspan><tspan dy="-2">PO</tspan><tspan font-size="5.4" dy="2">4</tspan></text>
<text x="306.1" y="186.9" font-size="8.1" fill="#231f20">0.5 M KHCO<tspan font-size="5.4" dy="2">3</tspan></text>
<text x="247" y="241.1" font-size="8.1" fill="#231f20">1.5 M KCl</text>
<text x="247" y="251.1" font-size="8.1" fill="#231f20">1.5 M KHCO<tspan font-size="5.4" dy="2">3</tspan></text>
<text x="247.2" y="278.7" font-size="9.55" font-weight="bold" fill="#231f20">Normalized position</text>
<text x="225.6" y="273.4" font-size="4.6" font-weight="bold" fill="#e02424" text-anchor="middle">Surface</text>
<text x="355.5" y="273" font-size="4.6" font-weight="bold" fill="#e02424" text-anchor="middle">Bulk</text>
<text x="355.5" y="278.6" font-size="4.6" font-weight="bold" fill="#e02424" text-anchor="middle">(100um)</text>
<text transform="translate(206.4,212) rotate(-90)" font-size="9.3" font-weight="bold" fill="#231f20">pH</text>
<rect x="413.1" y="156.5" width="130.5" height="100" fill="none" stroke="#333" stroke-width="0.8"/>
<path d="M413.1,250.2 h1.3" stroke="#333" stroke-width="0.6"/>
<path d="M413.1,245.6 h1.3" stroke="#333" stroke-width="0.6"/>
<path d="M413.1,241.9 h1.3" stroke="#333" stroke-width="0.6"/>
<path d="M413.1,238.8 h1.3" stroke="#333" stroke-width="0.6"/>
<path d="M413.1,236.1 h1.3" stroke="#333" stroke-width="0.6"/>
<path d="M413.1,233.7 h1.3" stroke="#333" stroke-width="0.6"/>
<path d="M413.1,231.5 h2.5" stroke="#333" stroke-width="0.6"/>
<path d="M410.6,231.5 h2.5" stroke="#333" stroke-width="0.7"/>
<text x="409.5" y="234.8" font-size="9.3" font-weight="normal" fill="#231f20" text-anchor="end" >10</text>
<path d="M413.1,217.4 h1.3" stroke="#333" stroke-width="0.6"/>
<path d="M413.1,209.1 h1.3" stroke="#333" stroke-width="0.6"/>
<path d="M413.1,203.2 h1.3" stroke="#333" stroke-width="0.6"/>
<path d="M413.1,198.6 h1.3" stroke="#333" stroke-width="0.6"/>
<path d="M413.1,194.9 h1.3" stroke="#333" stroke-width="0.6"/>
<path d="M413.1,191.8 h1.3" stroke="#333" stroke-width="0.6"/>
<path d="M413.1,189.1 h1.3" stroke="#333" stroke-width="0.6"/>
<path d="M413.1,186.7 h1.3" stroke="#333" stroke-width="0.6"/>
<path d="M413.1,184.5 h2.5" stroke="#333" stroke-width="0.6"/>
<path d="M410.6,184.5 h2.5" stroke="#333" stroke-width="0.7"/>
<text x="409.5" y="187.8" font-size="9.3" font-weight="normal" fill="#231f20" text-anchor="end" >100</text>
<path d="M413.1,170.4 h1.3" stroke="#333" stroke-width="0.6"/>
<path d="M413.1,162.1 h1.3" stroke="#333" stroke-width="0.6"/>
<path d="M426.4,256.5 v2.5" stroke="#333" stroke-width="0.7"/>
<path d="M452.4,256.5 v2.5" stroke="#333" stroke-width="0.7"/>
<path d="M478.4,256.5 v2.5" stroke="#333" stroke-width="0.7"/>
<path d="M504.4,256.5 v2.5" stroke="#333" stroke-width="0.7"/>
<path d="M530.4,256.5 v2.5" stroke="#333" stroke-width="0.7"/>
<text x="426.4" y="267.8" font-size="9.6" fill="#231f20" text-anchor="middle">F<tspan font-size="6" dy="-3">-</tspan></text>
<text x="452.4" y="267.8" font-size="9.6" fill="#231f20" text-anchor="middle">Cl<tspan font-size="6" dy="-3">-</tspan></text>
<text x="478.4" y="267.8" font-size="9.6" fill="#231f20" text-anchor="middle">Br<tspan font-size="6" dy="-3">-</tspan></text>
<text x="504.4" y="267.8" font-size="9.6" fill="#231f20" text-anchor="middle">I<tspan font-size="6" dy="-3">-</tspan></text>
<text x="517.2" y="267.8" font-size="9.6" fill="#231f20">HCO<tspan font-size="6" dy="2">3</tspan><tspan font-size="6" dy="-6">-</tspan></text>
<text x="463" y="280.4" font-size="9.3" font-weight="bold" fill="#231f20">Cations</text>
<text transform="translate(389,239) rotate(-90)" font-size="9.3" font-weight="bold" fill="#231f20">Selectivity (%)</text>
<polyline points="426.4,191.8 452.4,248.7 478.4,234.5 504.4,246 530.4,249.1" fill="none" stroke="#4a4ec0" stroke-width="0.85"/>
<polyline points="426.4,227.6 452.4,238.2 478.4,226.7 504.4,219.1 530.4,194" fill="none" stroke="#e83838" stroke-width="0.85"/>
<polyline points="426.4,221.3 452.4,187.3 478.4,189.5 504.4,190 530.4,207.3" fill="none" stroke="#28a428" stroke-width="0.85"/>
<rect x="424.4" y="189.8" width="4.0" height="4.0" fill="#101a90"/>
<rect x="450.4" y="246.7" width="4.0" height="4.0" fill="#101a90"/>
<rect x="476.4" y="232.5" width="4.0" height="4.0" fill="#101a90"/>
<rect x="502.4" y="244.0" width="4.0" height="4.0" fill="#101a90"/>
<rect x="528.4" y="247.1" width="4.0" height="4.0" fill="#101a90"/>
<circle cx="426.4" cy="227.6" r="2.3" fill="#e0101a"/>
<circle cx="452.4" cy="238.2" r="2.3" fill="#e0101a"/>
<circle cx="478.4" cy="226.7" r="2.3" fill="#e0101a"/>
<circle cx="504.4" cy="219.1" r="2.3" fill="#e0101a"/>
<circle cx="530.4" cy="194" r="2.3" fill="#e0101a"/>
<path d="M426.4,218.3 L428.9,223.3 L423.9,223.3 z" fill="#189a18"/>
<path d="M452.4,184.3 L454.9,189.3 L449.9,189.3 z" fill="#189a18"/>
<path d="M478.4,186.5 L480.9,191.5 L475.9,191.5 z" fill="#189a18"/>
<path d="M504.4,187.0 L506.9,192.0 L501.9,192.0 z" fill="#189a18"/>
<path d="M530.4,204.3 L532.9,209.3 L527.9,209.3 z" fill="#189a18"/>
<path d="M423.6,164.2 h12.8" stroke="#3a40b8" stroke-width="0.8"/>
<rect x="428.1" y="162.3" width="3.8" height="3.8" fill="#101a90"/>
<path d="M461.8,164.2 h11.8" stroke="#e03030" stroke-width="0.7"/>
<circle cx="467.6" cy="164.2" r="1.9" fill="#e0101a"/>
<path d="M502.7,164.2 h12.8" stroke="#20a020" stroke-width="0.7"/>
<path d="M509,162.0 L511.0,166.0 L507.0,166.0 z" fill="#189a18"/>
<text x="443.3" y="167.6" font-size="9.3" fill="#231f20">CO</text>
<text x="481.3" y="167.6" font-size="9.3" fill="#231f20">CH<tspan font-size="6" dy="2">4</tspan></text>
<text x="522.4" y="167.6" font-size="9.3" fill="#231f20">C<tspan font-size="6" dy="2">2+</tspan></text>
<path d="M23.6,290.9 H363 V422 H193.4 V383 H23.6 z" fill="#dde9f5"/>
<rect x="23.6" y="383" width="169.8" height="37" fill="url(#el1)"/>
<rect x="193.4" y="422" width="169.6" height="23" fill="url(#el2)"/>
<path d="M23.6,383 H193.4 V422 H363" stroke="#6a6a6a" stroke-width="0.8" fill="none"/>
<circle cx="85.5" cy="313.90000000000003" r="24" fill="none" stroke="#3a3a3a" stroke-width="0.85" stroke-dasharray="2.6 1.8"/>
<circle cx="72.1" cy="301.2" r="2.9" fill="url(#hy)"/>
<circle cx="66.8" cy="312.6" r="2.9" fill="url(#hy)"/>
<circle cx="71.3" cy="308.6" r="4.4" fill="url(#ox)"/>
<circle cx="99.1" cy="301.0" r="2.9" fill="url(#hy)"/>
<circle cx="105.5" cy="311.3" r="2.9" fill="url(#hy)"/>
<circle cx="100.2" cy="307.3" r="4.4" fill="url(#ox)"/>
<circle cx="77.7" cy="331.3" r="2.9" fill="url(#hy)"/>
<circle cx="90.0" cy="332.3" r="2.9" fill="url(#hy)"/>
<circle cx="84.4" cy="329.3" r="4.4" fill="url(#ox)"/>
<circle cx="86" cy="314.6" r="9.5" fill="url(#ca)"/>
<text x="86" y="318.20000000000005" font-size="10" font-weight="bold" fill="#fff" text-anchor="middle">+</text>
<circle cx="163.5" cy="316.3" r="24" fill="none" stroke="#3a3a3a" stroke-width="0.85" stroke-dasharray="2.6 1.8"/>
<circle cx="150.1" cy="303.6" r="2.9" fill="url(#hy)"/>
<circle cx="144.8" cy="315.0" r="2.9" fill="url(#hy)"/>
<circle cx="149.3" cy="311.0" r="4.4" fill="url(#ox)"/>
<circle cx="177.1" cy="303.4" r="2.9" fill="url(#hy)"/>
<circle cx="183.5" cy="313.7" r="2.9" fill="url(#hy)"/>
<circle cx="178.2" cy="309.7" r="4.4" fill="url(#ox)"/>
<circle cx="155.7" cy="333.7" r="2.9" fill="url(#hy)"/>
<circle cx="168.0" cy="334.7" r="2.9" fill="url(#hy)"/>
<circle cx="162.4" cy="331.7" r="4.4" fill="url(#ox)"/>
<circle cx="164" cy="317" r="9.5" fill="url(#ca)"/>
<text x="164" y="320.6" font-size="10" font-weight="bold" fill="#fff" text-anchor="middle">+</text>
<circle cx="225.5" cy="396.8" r="24" fill="none" stroke="#3a3a3a" stroke-width="0.85" stroke-dasharray="2.6 1.8"/>
<circle cx="212.1" cy="384.1" r="2.9" fill="url(#hy)"/>
<circle cx="206.8" cy="395.5" r="2.9" fill="url(#hy)"/>
<circle cx="211.3" cy="391.5" r="4.4" fill="url(#ox)"/>
<circle cx="239.1" cy="383.9" r="2.9" fill="url(#hy)"/>
<circle cx="245.5" cy="394.2" r="2.9" fill="url(#hy)"/>
<circle cx="240.2" cy="390.2" r="4.4" fill="url(#ox)"/>
<circle cx="217.7" cy="414.2" r="2.9" fill="url(#hy)"/>
<circle cx="230.0" cy="415.2" r="2.9" fill="url(#hy)"/>
<circle cx="224.4" cy="412.2" r="4.4" fill="url(#ox)"/>
<circle cx="226" cy="397.5" r="9.5" fill="url(#ca)"/>
<text x="226" y="401.1" font-size="10" font-weight="bold" fill="#fff" text-anchor="middle">+</text>
<circle cx="319.3" cy="397.8" r="24" fill="none" stroke="#3a3a3a" stroke-width="0.85" stroke-dasharray="2.6 1.8"/>
<circle cx="305.9" cy="385.1" r="2.9" fill="url(#hy)"/>
<circle cx="300.6" cy="396.5" r="2.9" fill="url(#hy)"/>
<circle cx="305.1" cy="392.5" r="4.4" fill="url(#ox)"/>
<circle cx="332.9" cy="384.9" r="2.9" fill="url(#hy)"/>
<circle cx="339.3" cy="395.2" r="2.9" fill="url(#hy)"/>
<circle cx="334.0" cy="391.2" r="4.4" fill="url(#ox)"/>
<circle cx="311.5" cy="415.2" r="2.9" fill="url(#hy)"/>
<circle cx="323.8" cy="416.2" r="2.9" fill="url(#hy)"/>
<circle cx="318.2" cy="413.2" r="4.4" fill="url(#ox)"/>
<circle cx="319.8" cy="398.5" r="9.5" fill="url(#ca)"/>
<text x="319.8" y="402.1" font-size="10" font-weight="bold" fill="#fff" text-anchor="middle">+</text>
<circle cx="57.400000000000006" cy="358.7" r="24.3" fill="none" stroke="#3a3a3a" stroke-width="0.85" stroke-dasharray="2.6 1.8"/>
<circle cx="54.1" cy="344.7" r="2.9" fill="url(#hy)"/>
<circle cx="65.7" cy="346.7" r="2.9" fill="url(#hy)"/>
<circle cx="60.1" cy="343.4" r="4.4" fill="url(#ox)"/>
<circle cx="42.4" cy="358.1" r="2.9" fill="url(#hy)"/>
<circle cx="46.4" cy="369.8" r="2.9" fill="url(#hy)"/>
<circle cx="41.4" cy="364.5" r="4.4" fill="url(#ox)"/>
<circle cx="71.4" cy="363.4" r="2.9" fill="url(#hy)"/>
<circle cx="65.2" cy="373.0" r="2.9" fill="url(#hy)"/>
<circle cx="70.1" cy="369.4" r="4.4" fill="url(#ox)"/>
<circle cx="57.7" cy="359.4" r="10" fill="url(#an)"/>
<path d="M54.300000000000004,359.2 h6.8" stroke="#fff" stroke-width="1.1"/>
<circle cx="132.7" cy="359.3" r="24.3" fill="none" stroke="#3a3a3a" stroke-width="0.85" stroke-dasharray="2.6 1.8"/>
<circle cx="129.4" cy="345.3" r="2.9" fill="url(#hy)"/>
<circle cx="141.0" cy="347.3" r="2.9" fill="url(#hy)"/>
<circle cx="135.4" cy="344.0" r="4.4" fill="url(#ox)"/>
<circle cx="117.7" cy="358.7" r="2.9" fill="url(#hy)"/>
<circle cx="121.7" cy="370.4" r="2.9" fill="url(#hy)"/>
<circle cx="116.7" cy="365.1" r="4.4" fill="url(#ox)"/>
<circle cx="146.7" cy="364.0" r="2.9" fill="url(#hy)"/>
<circle cx="140.5" cy="373.6" r="2.9" fill="url(#hy)"/>
<circle cx="145.4" cy="370.0" r="4.4" fill="url(#ox)"/>
<circle cx="133" cy="360" r="10" fill="url(#an)"/>
<path d="M129.6,359.8 h6.8" stroke="#fff" stroke-width="1.1"/>
<circle cx="273.2" cy="340.7" r="24.3" fill="none" stroke="#3a3a3a" stroke-width="0.85" stroke-dasharray="2.6 1.8"/>
<circle cx="269.9" cy="326.7" r="2.9" fill="url(#hy)"/>
<circle cx="281.5" cy="328.7" r="2.9" fill="url(#hy)"/>
<circle cx="275.9" cy="325.4" r="4.4" fill="url(#ox)"/>
<circle cx="258.2" cy="340.1" r="2.9" fill="url(#hy)"/>
<circle cx="262.2" cy="351.8" r="2.9" fill="url(#hy)"/>
<circle cx="257.2" cy="346.5" r="4.4" fill="url(#ox)"/>
<circle cx="287.2" cy="345.4" r="2.9" fill="url(#hy)"/>
<circle cx="281.0" cy="355.0" r="2.9" fill="url(#hy)"/>
<circle cx="285.9" cy="351.4" r="4.4" fill="url(#ox)"/>
<circle cx="273.5" cy="341.4" r="10" fill="url(#an)"/>
<path d="M270.1,341.2 h6.8" stroke="#fff" stroke-width="1.1"/>
<text x="168.6" y="356.4" font-size="10.5" font-weight="bold" fill="#231f20">H<tspan font-size="7" dy="-3.5">+</tspan></text>
<circle cx="186.1" cy="354.7" r="3.1" fill="url(#hy)"/>
<circle cx="167.8" cy="379.4" r="3.1" fill="url(#hy)"/>
<path d="M173.4,375.4 C175,369 181,369.5 184.2,364.5" stroke="#28b068" stroke-width="0.9" fill="none"/><path d="M185.6,360.6 L186.2,366 L182.2,364 z" fill="#28b068"/>
<text x="60" y="393.4" font-size="8.2" font-weight="bold" fill="#2a2a2a" text-anchor="middle">+</text>
<text x="82.8" y="393.4" font-size="8.2" font-weight="bold" fill="#2a2a2a" text-anchor="middle">+</text>
<text x="105.7" y="393.4" font-size="8.2" font-weight="bold" fill="#2a2a2a" text-anchor="middle">+</text>
<text x="129" y="393.4" font-size="8.2" font-weight="bold" fill="#2a2a2a" text-anchor="middle">+</text>
<text x="151.9" y="393.4" font-size="8.2" font-weight="bold" fill="#2a2a2a" text-anchor="middle">+</text>
<text x="174.8" y="393.4" font-size="8.2" font-weight="bold" fill="#2a2a2a" text-anchor="middle">+</text>
<path d="M216.5,428 h2.4" stroke="#333" stroke-width="0.8"/>
<path d="M236.20000000000002,428 h2.4" stroke="#333" stroke-width="0.8"/>
<path d="M256.40000000000003,428 h2.4" stroke="#333" stroke-width="0.8"/>
<path d="M276.40000000000003,428 h2.4" stroke="#333" stroke-width="0.8"/>
<path d="M296.7,428 h2.4" stroke="#333" stroke-width="0.8"/>
<path d="M316.3,428 h2.4" stroke="#333" stroke-width="0.8"/>
<path d="M336.0,428 h2.4" stroke="#333" stroke-width="0.8"/>
<text x="33.2" y="399.2" font-size="10" font-weight="bold" fill="#231f20">i<tspan font-size="7.6" dy="2.6">a</tspan></text>
<text x="123" y="404.4" font-size="10" font-weight="bold" fill="#231f20">t<tspan font-size="7.6" dy="2.6">a</tspan></text>
<text x="198.7" y="433.5" font-size="10" font-weight="bold" fill="#231f20">i<tspan font-size="7.6" dy="2.6">c</tspan></text>
<text x="283.6" y="439.8" font-size="10" font-weight="bold" fill="#231f20">t<tspan font-size="7.6" dy="2.6">c</tspan></text>
<text x="40.3" y="414.9" font-size="11.6" font-weight="bold" fill="#c8621c">Cu electrode</text>
<text x="83.8" y="432.4" font-size="11.8" font-weight="bold" fill="#231f20">pulse CP mode</text>
<circle cx="258.6" cy="411.2" r="4.3" fill="url(#ox)"/>
<circle cx="271.0" cy="411.2" r="4.3" fill="url(#ox)"/>
<circle cx="265.4" cy="417.2" r="4.3" fill="url(#cg)"/>
<circle cx="289.3" cy="408.9" r="4.3" fill="url(#ox)"/>
<circle cx="289.3" cy="417.2" r="4.3" fill="url(#cg)"/>
<rect x="413.2" y="306.6" width="133.2" height="101.2" fill="none" stroke="#333" stroke-width="0.8"/>
<path d="M413.2,407.8 h-2.6" stroke="#333" stroke-width="0.7"/>
<text x="409.5" y="411.1" font-size="9.3" font-weight="normal" fill="#231f20" text-anchor="end" >0</text>
<path d="M413.2,399.9 h-1.4" stroke="#333" stroke-width="0.7"/>
<path d="M413.2,392.1 h-2.6" stroke="#333" stroke-width="0.7"/>
<text x="409.5" y="395.40000000000003" font-size="9.3" font-weight="normal" fill="#231f20" text-anchor="end" >20</text>
<path d="M413.2,384.2 h-1.4" stroke="#333" stroke-width="0.7"/>
<path d="M413.2,376.4 h-2.6" stroke="#333" stroke-width="0.7"/>
<text x="409.5" y="379.70000000000005" font-size="9.3" font-weight="normal" fill="#231f20" text-anchor="end" >40</text>
<path d="M413.2,368.6 h-1.4" stroke="#333" stroke-width="0.7"/>
<path d="M413.2,360.7 h-2.6" stroke="#333" stroke-width="0.7"/>
<text x="409.5" y="364.0" font-size="9.3" font-weight="normal" fill="#231f20" text-anchor="end" >60</text>
<path d="M413.2,352.9 h-1.4" stroke="#333" stroke-width="0.7"/>
<path d="M413.2,345.0 h-2.6" stroke="#333" stroke-width="0.7"/>
<text x="409.5" y="348.3" font-size="9.3" font-weight="normal" fill="#231f20" text-anchor="end" >80</text>
<path d="M413.2,337.1 h-1.4" stroke="#333" stroke-width="0.7"/>
<path d="M413.2,329.3 h-2.6" stroke="#333" stroke-width="0.7"/>
<text x="409.5" y="332.6" font-size="9.3" font-weight="normal" fill="#231f20" text-anchor="end" >100</text>
<path d="M413.2,321.4 h-1.4" stroke="#333" stroke-width="0.7"/>
<path d="M413.2,313.6 h-2.6" stroke="#333" stroke-width="0.7"/>
<text x="409.5" y="316.90000000000003" font-size="9.3" font-weight="normal" fill="#231f20" text-anchor="end" >120</text>
<rect x="418.9" y="341.9" width="5.4" height="65.9" fill="#ef8426"/>
<rect x="424.9" y="334.8" width="5.4" height="73.0" fill="#22c4c4"/>
<path d="M421.6,338.7 V345.0 M420.6,338.7 h2 M420.6,345.0 h2" stroke="#222" stroke-width="0.6"/>
<path d="M427.6,332.8 V336.8 M426.6,332.8 h2 M426.6,336.8 h2" stroke="#222" stroke-width="0.6"/>
<path d="M424.5,407.8 v2.5" stroke="#333" stroke-width="0.7"/>
<text x="424.5" y="420.2" font-size="9.3" font-weight="normal" fill="#231f20" text-anchor="middle" >50</text>
<rect x="441.1" y="337.1" width="5.4" height="70.7" fill="#ef8426"/>
<rect x="447.1" y="336.0" width="5.4" height="71.8" fill="#22c4c4"/>
<path d="M443.8,335.2 V339.1 M442.8,335.2 h2 M442.8,339.1 h2" stroke="#222" stroke-width="0.6"/>
<path d="M449.8,333.6 V338.3 M448.8,333.6 h2 M448.8,338.3 h2" stroke="#222" stroke-width="0.6"/>
<path d="M446.7,407.8 v2.5" stroke="#333" stroke-width="0.7"/>
<text x="446.7" y="420.2" font-size="9.3" font-weight="normal" fill="#231f20" text-anchor="middle" >100</text>
<rect x="463.1" y="333.2" width="5.4" height="74.6" fill="#ef8426"/>
<rect x="469.1" y="332.4" width="5.4" height="75.4" fill="#22c4c4"/>
<path d="M465.8,332.0 V334.4 M464.8,332.0 h2 M464.8,334.4 h2" stroke="#222" stroke-width="0.6"/>
<path d="M471.8,331.7 V333.2 M470.8,331.7 h2 M470.8,333.2 h2" stroke="#222" stroke-width="0.6"/>
<path d="M468.7,407.8 v2.5" stroke="#333" stroke-width="0.7"/>
<text x="468.7" y="420.2" font-size="9.3" font-weight="normal" fill="#231f20" text-anchor="middle" >200</text>
<rect x="485.3" y="338.7" width="5.4" height="69.1" fill="#ef8426"/>
<rect x="491.3" y="331.7" width="5.4" height="76.1" fill="#22c4c4"/>
<path d="M488.0,336.0 V341.5 M487.0,336.0 h2 M487.0,341.5 h2" stroke="#222" stroke-width="0.6"/>
<path d="M494.0,330.7 V332.6 M493.0,330.7 h2 M493.0,332.6 h2" stroke="#222" stroke-width="0.6"/>
<path d="M490.9,407.8 v2.5" stroke="#333" stroke-width="0.7"/>
<text x="490.9" y="420.2" font-size="9.3" font-weight="normal" fill="#231f20" text-anchor="middle" >300</text>
<rect x="507.3" y="339.5" width="5.4" height="68.3" fill="#ef8426"/>
<rect x="513.3" y="332.4" width="5.4" height="75.4" fill="#22c4c4"/>
<path d="M510.0,337.8 V341.2 M509.0,337.8 h2 M509.0,341.2 h2" stroke="#222" stroke-width="0.6"/>
<path d="M516.0,330.5 V334.4 M515.0,330.5 h2 M515.0,334.4 h2" stroke="#222" stroke-width="0.6"/>
<path d="M512.9,407.8 v2.5" stroke="#333" stroke-width="0.7"/>
<text x="512.9" y="420.2" font-size="9.3" font-weight="normal" fill="#231f20" text-anchor="middle" >400</text>
<rect x="529.5" y="347.4" width="5.4" height="60.4" fill="#ef8426"/>
<rect x="535.5" y="334.8" width="5.4" height="73.0" fill="#22c4c4"/>
<path d="M532.2,344.2 V350.5 M531.2,344.2 h2 M531.2,350.5 h2" stroke="#222" stroke-width="0.6"/>
<path d="M538.2,334.4 V335.2 M537.2,334.4 h2 M537.2,335.2 h2" stroke="#222" stroke-width="0.6"/>
<path d="M535.1,407.8 v2.5" stroke="#333" stroke-width="0.7"/>
<text x="535.1" y="420.2" font-size="9.3" font-weight="normal" fill="#231f20" text-anchor="middle" >500</text>
<rect x="415.9" y="310" width="12.7" height="5.5" fill="#ef8426"/>
<rect x="415.9" y="321.8" width="12.7" height="5.5" fill="#22c4c4"/>
<text x="436.1" y="316.3" font-size="9.45" fill="#231f20">No surfactants</text>
<text x="436.1" y="327.2" font-size="9.45" fill="#231f20">With DDPA</text>
<text x="423.2" y="429.6" font-size="9.45" font-weight="bold" fill="#231f20">Current density (mA cm<tspan font-size="6" dy="-3">-2</tspan><tspan dy="3">)</tspan></text>
<text transform="translate(390.5,377.5) rotate(-90)" font-size="9.3" font-weight="bold" fill="#231f20">FE<tspan font-size="6" dy="2">CO</tspan><tspan dy="-2"> (%)</tspan></text>
</svg>
</body></html>
